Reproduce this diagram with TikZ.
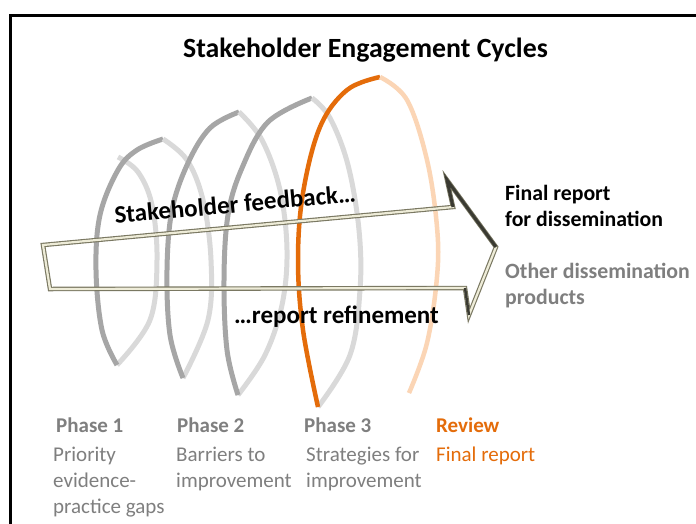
\documentclass[tikz,border=0pt]{standalone}
\usepackage{fontspec}
\setmainfont{Carlito}
\definecolor{darkg}{HTML}{A6A6A6}
\definecolor{lightg}{HTML}{D9D9D9}
\definecolor{orng}{HTML}{E46C0A}
\definecolor{peach}{HTML}{FBD5B5}
\definecolor{txtg}{HTML}{7F7F7F}
\definecolor{arrowout}{HTML}{7A7862}
\definecolor{arrowin}{HTML}{EEECD8}
\definecolor{arrowdark}{HTML}{3A3A32}
\begin{document}
\begin{tikzpicture}[x=1pt,y=-1pt,
  coil/.style={line width=5pt,line join=miter},
  lbl/.style={anchor=base west,inner sep=0pt},
  phase/.style={lbl,font=\bfseries\fontsize{21}{26}\selectfont,text=txtg},
  desc/.style={lbl,font=\fontsize{21}{26}\selectfont,text=txtg},
  rtxt/.style={lbl,font=\bfseries\fontsize{21.8}{26}\selectfont},
  big/.style={inner sep=0pt,font=\bfseries\fontsize{25}{30}\selectfont}]
\useasboundingbox (0,0) rectangle (696,523);
\fill[white] (0,0) rectangle (696,523);
% frame
\draw[line width=3pt] (10,530) -- (10,15.5) -- (700,15.5);
% title
\node[inner sep=0pt,anchor=base,font=\bfseries\fontsize{27.8}{32}\selectfont] (title) at (365.5,57) {Stakeholder Engagement Cycles};
% coil
\draw[coil,lightg] plot[smooth,tension=0.6] coordinates {(118,157) (138,172) (152,205) (157,260) (150,320) (117,365)};
\draw[coil,darkg] plot[smooth,tension=0.6] coordinates {(117,365) (102,330) (96,270) (100,215) (118,170) (137,150) (163,139)};
\draw[coil,lightg] plot[smooth,tension=0.6] coordinates {(163,139) (187,160) (203,200) (211,260) (208,320) (183,378)};
\draw[coil,darkg] plot[smooth,tension=0.6] coordinates {(183,378) (170,335) (167,270) (172,210) (188,163) (210,128) (239,112)};
\draw[coil,lightg] plot[smooth,tension=0.6] coordinates {(239,112) (262,140) (280,190) (287,250) (282,305) (265,355) (238,395)};
\draw[coil,darkg] plot[smooth,tension=0.6] coordinates {(238,395) (227,350) (224,280) (228,215) (242,168) (268,122) (312,98)};
\draw[coil,lightg] plot[smooth,tension=0.6] coordinates {(312,98) (330,118) (348,165) (359,230) (360,290) (350,355) (318,407)};
\draw[coil,orng,line width=4.5pt] plot[smooth,tension=0.6] coordinates {(318,407) (303,330) (298,260) (303,193) (320,127) (347,90) (380,77)};
\draw[coil,peach,line width=4.5pt] plot[smooth,tension=0.6] coordinates {(380,77) (407,100) (427,160) (437,227) (437,277) (427,343) (409,393)};
% arrow
\coordinate (a1) at (43,245);
\coordinate (a2) at (453,207);
\coordinate (a3) at (447,180);
\coordinate (a4) at (496,247);
\coordinate (a5) at (469,315);
\coordinate (a6) at (465,288);
\coordinate (a7) at (50,289);
\draw[arrowout,line width=4.5pt,line join=miter] (a1) -- (a2) -- (a3) -- (a4) -- (a5) -- (a6) -- (a7) -- cycle;
\draw[arrowin,line width=2.2pt,line join=miter] (a1) -- (a2) -- (a3) -- (a4) -- (a5) -- (a6) -- (a7) -- cycle;
\draw[arrowdark,line width=3pt,line join=miter] (a2) -- (a3) -- (a4);
\draw[arrowdark,line width=2.5pt] (a5) -- (a6);
% arrow labels
\node[big,rotate=5.3] (fb) at (235,204) {Stakeholder feedback…};
\node[big,anchor=base west] (rr) at (234,323) {…report refinement};
% right texts
\node[rtxt] (fr1) at (505,200) {Final report};
\node[rtxt] (fr2) at (505,226) {for dissemination};
\node[rtxt,text=txtg] (od1) at (505,278) {Other dissemination};
\node[rtxt,text=txtg] (od2) at (505,304) {products};
% phases
\node[phase] (p1) at (56,432) {Phase 1};
\node[desc] (p1a) at (53,461) {Priority};
\node[desc] (p1b) at (53,487) {evidence-};
\node[desc] (p1c) at (53,513) {practice gaps};
\node[phase] (p2) at (177,432) {Phase 2};
\node[desc] (p2a) at (176,461) {Barriers to};
\node[desc] (p2b) at (176,487) {improvement};
\node[phase] (p3) at (304,432) {Phase 3};
\node[desc] (p3a) at (306,461) {Strategies for};
\node[desc] (p3b) at (306,487) {improvement};
\node[phase,text=orng] (p4) at (436,432) {Review};
\node[desc,text=orng] (p4a) at (436,461) {Final report};
\end{tikzpicture}
\end{document}
